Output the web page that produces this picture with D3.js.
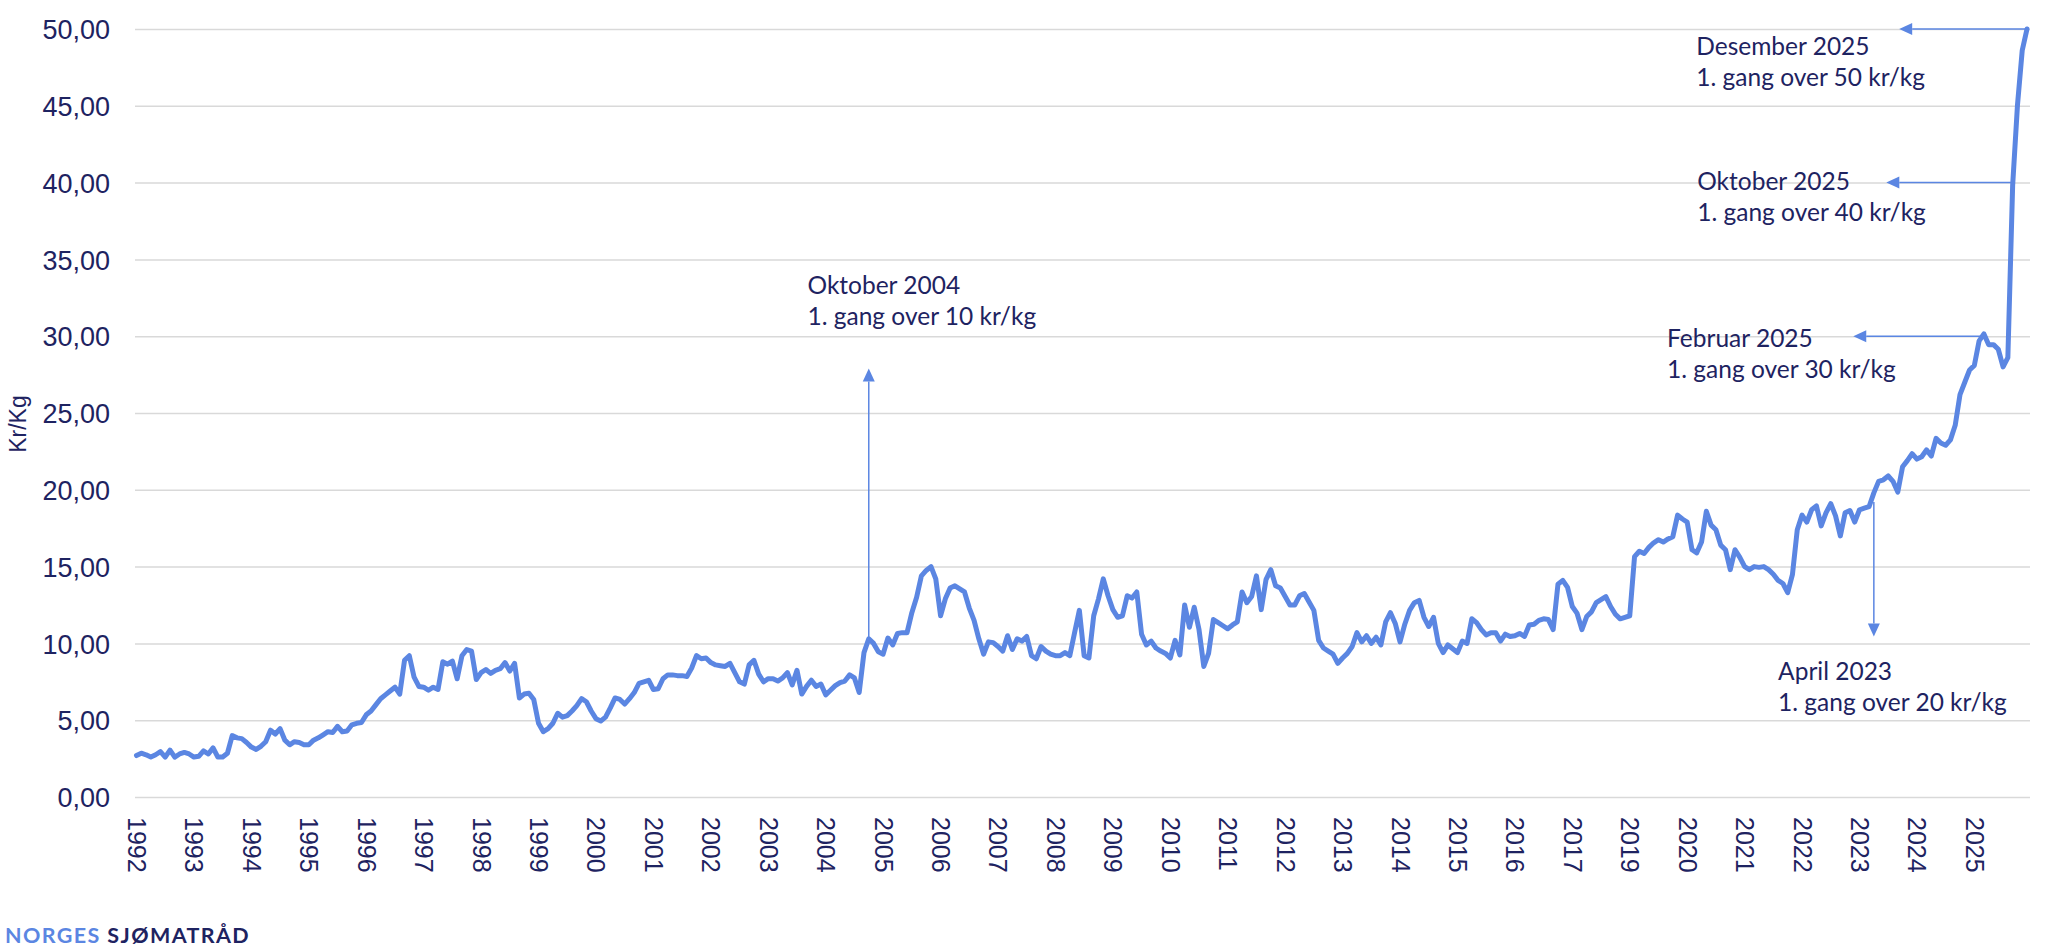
<!DOCTYPE html>
<html lang="no">
<head>
<meta charset="utf-8">
<script src="https://cdn.jsdelivr.net/npm/d3@7/dist/d3.min.js"></script>
<style>
  html, body { margin: 0; padding: 0; background: #ffffff; }
  svg { display: block; }
</style>
</head>
<body>
<svg id="chart" width="2047" height="950"></svg>
<script>
// ---------- DATA ----------
// Year labels shown on the category axis (one every 12 monthly points)
const yearLabels = ['1992','1993','1994','1995','1996','1997','1998','1999','2000','2001',
  '2002','2003','2004','2005','2006','2007','2008','2009','2010','2011','2012','2013',
  '2014','2015','2016','2017','2019','2020','2021','2022','2023','2024','2025'];

// Monthly price, kr/kg (one row per year label)
const prices = [
  2.7, 2.85, 2.75, 2.6, 2.75, 2.95, 2.6, 3.05, 2.6, 2.8, 2.9, 2.8,
  2.6, 2.65, 3.0, 2.8, 3.2, 2.6, 2.6, 2.85, 4.0, 3.85, 3.8, 3.55,
  3.25, 3.1, 3.3, 3.6, 4.35, 4.1, 4.45, 3.7, 3.4, 3.6, 3.55, 3.4,
  3.4, 3.7, 3.85, 4.05, 4.25, 4.2, 4.6, 4.25, 4.3, 4.7, 4.8, 4.85,
  5.35, 5.6, 6.0, 6.4, 6.65, 6.9, 7.15, 6.7, 8.9, 9.2, 7.8, 7.2,
  7.15, 6.95, 7.15, 7.0, 8.8, 8.65, 8.85, 7.7, 9.2, 9.6, 9.5, 7.65,
  8.1, 8.3, 8.05, 8.25, 8.35, 8.75, 8.2, 8.7, 6.45, 6.7, 6.75, 6.35,
  4.8, 4.25, 4.45, 4.8, 5.45, 5.2, 5.3, 5.6, 5.95, 6.4, 6.2, 5.6,
  5.1, 4.95, 5.2, 5.8, 6.45, 6.35, 6.05, 6.4, 6.8, 7.4, 7.5, 7.6,
  7.0, 7.05, 7.7, 7.95, 7.95, 7.9, 7.9, 7.85, 8.4, 9.2, 9.0, 9.05,
  8.75, 8.6, 8.55, 8.5, 8.7, 8.1, 7.5, 7.35, 8.6, 8.9, 8.0, 7.5,
  7.7, 7.7, 7.55, 7.75, 8.1, 7.3, 8.25, 6.7, 7.2, 7.6, 7.2, 7.35,
  6.65, 6.95, 7.25, 7.45, 7.55, 7.95, 7.75, 6.8, 9.4, 10.3, 10.0, 9.45,
  9.3, 10.35, 9.9, 10.65, 10.7, 10.7, 12.0, 13.0, 14.4, 14.75, 15.0, 14.2,
  11.8, 12.9, 13.6, 13.75, 13.55, 13.35, 12.3, 11.5, 10.3, 9.3, 10.1, 10.05,
  9.8, 9.5, 10.5, 9.6, 10.3, 10.15, 10.45, 9.2, 9.0, 9.8, 9.5, 9.3,
  9.2, 9.2, 9.4, 9.2, 10.7, 12.15, 9.2, 9.05, 11.8, 12.9, 14.2, 13.1,
  12.2, 11.7, 11.8, 13.1, 12.95, 13.35, 10.6, 9.9, 10.15, 9.7, 9.5, 9.35,
  9.05, 10.2, 9.25, 12.5, 11.05, 12.35, 10.9, 8.5, 9.35, 11.55, 11.35, 11.15,
  10.95, 11.2, 11.4, 13.35, 12.65, 13.05, 14.4, 12.2, 14.15, 14.8, 13.75, 13.6,
  13.05, 12.5, 12.5, 13.1, 13.25, 12.7, 12.15, 10.2, 9.7, 9.5, 9.3, 8.7,
  9.05, 9.35, 9.8, 10.7, 10.1, 10.5, 10.0, 10.4, 9.9, 11.4, 12.0, 11.3,
  10.1, 11.25, 12.15, 12.65, 12.8, 11.7, 11.1, 11.7, 10.0, 9.4, 9.9, 9.65,
  9.4, 10.15, 10.0, 11.6, 11.35, 10.9, 10.55, 10.7, 10.7, 10.15, 10.6, 10.45,
  10.5, 10.65, 10.45, 11.2, 11.25, 11.5, 11.6, 11.55, 10.9, 13.85, 14.1, 13.65,
  12.4, 11.95, 10.9, 11.75, 12.05, 12.65, 12.85, 13.05, 12.4, 11.9, 11.6, 11.7,
  11.8, 15.65, 16.0, 15.85, 16.25, 16.55, 16.75, 16.6, 16.8, 16.95, 18.35, 18.1,
  17.9, 16.1, 15.9, 16.6, 18.6, 17.7, 17.4, 16.4, 16.1, 14.8, 16.1, 15.6,
  15.0, 14.8, 15.0, 14.95, 15.0, 14.8, 14.5, 14.1, 13.9, 13.3, 14.5, 17.4,
  18.35, 17.9, 18.7, 18.95, 17.65, 18.5, 19.1, 18.3, 17.0, 18.5, 18.65, 17.9,
  18.7, 18.8, 18.9, 19.8, 20.55, 20.65, 20.9, 20.55, 19.85, 21.5, 21.9, 22.35,
  22.0, 22.15, 22.6, 22.2, 23.35, 23.05, 22.9, 23.25, 24.2, 26.2, 27.0, 27.8,
  28.1, 29.7, 30.15, 29.45, 29.45, 29.15, 28.0, 28.6, 39.8, 45.0, 48.6, 50.0
];

// Y axis ticks
const yTicks = [0, 5, 10, 15, 20, 25, 30, 35, 40, 45, 50];

// Annotation texts
const annotationTitles = ['Oktober 2004', 'April 2023', 'Februar 2025', 'Oktober 2025', 'Desember 2025'];
const annotationSubtitles = ['1. gang over 10 kr/kg', '1. gang over 20 kr/kg', '1. gang over 30 kr/kg',
                             '1. gang over 40 kr/kg', '1. gang over 50 kr/kg'];
// Text anchor (month index, value at baseline of first line)
const annotationTextIdx = [140.2, 343.0, 319.8, 326.1, 325.9];
const annotationTextVal = [32.75, 7.62, 29.3, 39.5, 48.3];
// Arrow: start (idx, value) -> tip (idx, value)
const arrowFromIdx = [153, 363, 385.2, 392.1, 395];
const arrowFromVal = [10.2, 19.2, 30, 40, 50];
const arrowToIdx   = [153, 363, 358.7, 365.6, 368.3];
const arrowToVal   = [27.9, 10.45, 30, 40, 50];

// ---------- CHART ----------
const W = 2047, H = 950;
const BLUE = '#5b86e2';
const NAVY = '#1e2361';
const GRID = '#d9d9d9';

const svg = d3.select('#chart');
svg.append('rect').attr('width', W).attr('height', H).attr('fill', '#fff');

const plotLeft = 135, plotRight = 2030, plotTop = 29, plotBottom = 797;

const x = d3.scaleLinear().domain([0, prices.length - 1]).range([136.5, 2027]);
const y = d3.scaleLinear().domain([0, 50]).range([plotBottom, plotTop]);

// Y axis with gridlines
const yAxis = svg.append('g')
  .attr('transform', `translate(${plotLeft},0)`)
  .call(d3.axisLeft(y)
    .tickValues(yTicks)
    .tickSize(-(plotRight - plotLeft))
    .tickPadding(25)
    .tickFormat(d => d.toFixed(2).replace('.', ',')));
yAxis.select('.domain').remove();
yAxis.selectAll('.tick line').attr('stroke', GRID).attr('stroke-width', 1.5);
yAxis.selectAll('.tick text')
  .attr('fill', NAVY)
  .attr('font-family', '"Liberation Sans", Arial, sans-serif')
  .attr('font-size', 27)
  .attr('dy', '0.36em');

// X axis (category labels every 12 months)
const xAxis = svg.append('g')
  .attr('transform', `translate(0,${plotBottom})`)
  .call(d3.axisBottom(x)
    .tickValues(d3.range(0, prices.length, 12))
    .tickSize(0)
    .tickFormat(i => yearLabels[i / 12]));
xAxis.select('.domain').remove();
xAxis.selectAll('.tick text')
  .attr('fill', NAVY)
  .attr('font-family', '"Liberation Sans", Arial, sans-serif')
  .attr('font-size', 25)
  .attr('text-anchor', 'start')
  .attr('transform', 'rotate(90)')
  .attr('x', 20)
  .attr('y', 0)
  .attr('dy', '0.36em');

// Y axis title
svg.append('text')
  .attr('transform', `translate(26,424) rotate(-90)`)
  .attr('text-anchor', 'middle')
  .attr('fill', NAVY)
  .attr('font-family', '"Liberation Sans", Arial, sans-serif')
  .attr('font-size', 23)
  .text('Kr/Kg');

// Series line
svg.append('path')
  .datum(prices)
  .attr('fill', 'none')
  .attr('stroke', BLUE)
  .attr('stroke-width', 5)
  .attr('stroke-linejoin', 'round')
  .attr('stroke-linecap', 'round')
  .attr('d', d3.line().x((d, i) => x(i)).y(d => y(d)));

// Annotation arrows
const arrowG = svg.append('g');
annotationTitles.forEach((t, k) => {
  const x1 = x(arrowFromIdx[k]), y1 = y(arrowFromVal[k]);
  const x2 = x(arrowToIdx[k]), y2 = y(arrowToVal[k]);
  const ang = Math.atan2(y2 - y1, x2 - x1);
  const len = 13, half = 6;
  const bx = x2 - len * Math.cos(ang), by = y2 - len * Math.sin(ang);
  arrowG.append('line')
    .attr('x1', x1).attr('y1', y1).attr('x2', bx).attr('y2', by)
    .attr('stroke', BLUE).attr('stroke-width', 1.5);
  const px = -Math.sin(ang), py = Math.cos(ang);
  arrowG.append('polygon')
    .attr('points', [[x2, y2], [bx + px * half, by + py * half], [bx - px * half, by - py * half]]
      .map(p => p.join(',')).join(' '))
    .attr('fill', BLUE);
});

// Annotation texts
const textG = svg.append('g')
  .attr('font-family', 'Lato, "Noto Sans", sans-serif')
  .attr('font-size', 24.5)
  .attr('fill', NAVY);
annotationTitles.forEach((t, k) => {
  const tx = x(annotationTextIdx[k]), ty = y(annotationTextVal[k]);
  const txt = textG.append('text').attr('x', tx).attr('y', ty);
  txt.append('tspan').attr('x', tx).attr('y', ty).text(t);
  txt.append('tspan').attr('x', tx).attr('y', ty + 31).text(annotationSubtitles[k]);
});

// Logo text
const logo = svg.append('text')
  .attr('x', 5).attr('y', 943)
  .attr('font-family', 'Lato, "Noto Sans", sans-serif')
  .attr('font-weight', 700)
  .attr('font-size', 21.5)
  .attr('letter-spacing', 1.4);
logo.append('tspan').attr('fill', BLUE).text('NORGES ');
logo.append('tspan').attr('fill', NAVY).text('SJØMATRÅD');
</script>
</body>
</html>
